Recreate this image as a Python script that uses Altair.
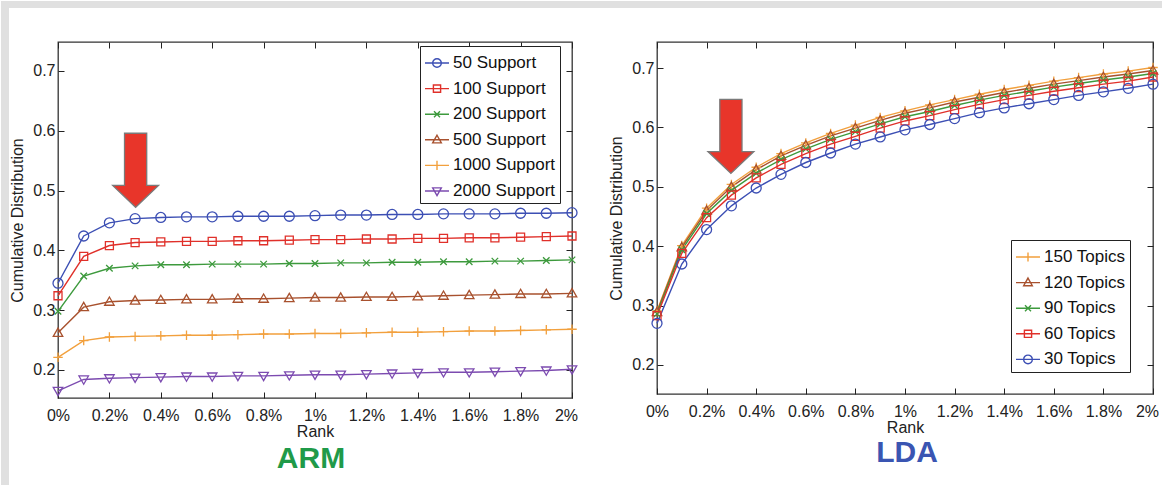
import altair as alt
import pandas as pd

# ---------------- data ----------------
RANK = [0.0, 0.1, 0.2, 0.3, 0.4, 0.5, 0.6, 0.7, 0.8, 0.9, 1.0,
        1.1, 1.2, 1.3, 1.4, 1.5, 1.6, 1.7, 1.8, 1.9, 2.0]
X_TICKS = [0.0, 0.2, 0.4, 0.6, 0.8, 1.0, 1.2, 1.4, 1.6, 1.8, 2.0]
Y_TICKS = [0.2, 0.3, 0.4, 0.5, 0.6, 0.7]

ARM_NAMES = ["50 Support", "100 Support", "200 Support", "500 Support",
             "1000 Support", "2000 Support"]
ARM_50 = [0.345, 0.424, 0.446, 0.453, 0.455, 0.456, 0.456, 0.457, 0.457, 0.457, 0.458,
          0.459, 0.459, 0.460, 0.460, 0.461, 0.461, 0.461, 0.462, 0.462, 0.463]
ARM_100 = [0.324, 0.390, 0.408, 0.413, 0.414, 0.415, 0.415, 0.416, 0.416, 0.417, 0.418,
           0.418, 0.419, 0.419, 0.420, 0.420, 0.421, 0.421, 0.422, 0.423, 0.424]
ARM_200 = [0.298, 0.357, 0.370, 0.374, 0.376, 0.376, 0.377, 0.377, 0.377, 0.378, 0.378,
           0.379, 0.379, 0.380, 0.380, 0.381, 0.381, 0.382, 0.382, 0.383, 0.384]
ARM_500 = [0.262, 0.305, 0.314, 0.316, 0.317, 0.318, 0.318, 0.319, 0.319, 0.320, 0.321,
           0.321, 0.322, 0.322, 0.323, 0.324, 0.325, 0.326, 0.327, 0.327, 0.328]
ARM_1000 = [0.221, 0.249, 0.255, 0.256, 0.257, 0.258, 0.258, 0.259, 0.260, 0.260, 0.261,
            0.261, 0.262, 0.263, 0.263, 0.264, 0.265, 0.265, 0.266, 0.267, 0.268]
ARM_2000 = [0.165, 0.184, 0.186, 0.187, 0.188, 0.189, 0.189, 0.190, 0.190, 0.191, 0.192,
            0.192, 0.193, 0.194, 0.195, 0.196, 0.196, 0.197, 0.198, 0.199, 0.201]
ARM_VALUES = [ARM_50, ARM_100, ARM_200, ARM_500, ARM_1000, ARM_2000]
ARM_COLORS = ["#3c4fb4", "#e0302a", "#3d9a3d", "#a8512e", "#f2a03d", "#7c4bb0"]

LDA_NAMES = ["150 Topics", "120 Topics", "90 Topics", "60 Topics", "30 Topics"]
LDA_150 = [0.291, 0.401, 0.464, 0.504, 0.533, 0.556, 0.574, 0.590, 0.604, 0.617, 0.628,
           0.638, 0.647, 0.656, 0.664, 0.671, 0.678, 0.684, 0.690, 0.695, 0.701]
LDA_120 = [0.289, 0.398, 0.460, 0.500, 0.529, 0.552, 0.570, 0.586, 0.599, 0.612, 0.624,
           0.633, 0.643, 0.651, 0.659, 0.666, 0.673, 0.679, 0.685, 0.690, 0.696]
LDA_90 = [0.286, 0.394, 0.455, 0.494, 0.523, 0.546, 0.564, 0.580, 0.593, 0.606, 0.618,
          0.627, 0.637, 0.646, 0.654, 0.661, 0.668, 0.674, 0.680, 0.685, 0.691]
LDA_60 = [0.283, 0.388, 0.448, 0.486, 0.515, 0.538, 0.556, 0.572, 0.585, 0.599, 0.611,
          0.620, 0.630, 0.639, 0.647, 0.654, 0.661, 0.667, 0.673, 0.678, 0.685]
LDA_30 = [0.270, 0.370, 0.428, 0.468, 0.498, 0.521, 0.541, 0.557, 0.572, 0.584, 0.596,
          0.605, 0.615, 0.625, 0.633, 0.640, 0.647, 0.654, 0.660, 0.666, 0.673]
LDA_VALUES = [LDA_150, LDA_120, LDA_90, LDA_60, LDA_30]
LDA_COLORS = ["#f2a03d", "#a8512e", "#3d9a3d", "#e0302a", "#3c4fb4"]

ARROW_ARM_RANK = [0.302]
ARROW_ARM_VALUE = [0.534]
ARROW_LDA_RANK = [0.298]
ARROW_LDA_VALUE = [0.585]

# ---------------- marker shapes ----------------
CIRCLE = "M1,0A1,1 0 1,1 -1,0A1,1 0 1,1 1,0Z"
SQUARE = "M-0.8,-0.8L0.8,-0.8L0.8,0.8L-0.8,0.8Z"
XMARK = "M-0.65,-0.65L0.65,0.65M-0.65,0.65L0.65,-0.65"
TRI_UP = "M0,-0.95L0.95,0.7L-0.95,0.7Z"
PLUS = "M-0.95,0L0.95,0M0,-0.95L0,0.95"
TRI_DOWN = "M0,0.95L0.95,-0.7L-0.95,-0.7Z"

L_CIRCLE = "M-1,0L1,0M0.36,0A0.36,0.36 0 1,1 -0.36,0A0.36,0.36 0 1,1 0.36,0Z"
L_SQUARE = "M-1,0L1,0M-0.3,-0.3L0.3,-0.3L0.3,0.3L-0.3,0.3Z"
L_XMARK = "M-1,0L1,0M-0.25,-0.25L0.25,0.25M-0.25,0.25L0.25,-0.25"
L_TRI_UP = "M-1,0L1,0M0,-0.38L0.36,0.26L-0.36,0.26Z"
L_PLUS = "M-1,0L1,0M0,-0.38L0,0.38"
L_TRI_DOWN = "M-1,0L1,0M0,0.38L0.36,-0.26L-0.36,-0.26Z"

ARROW = "M-0.3,-1L0.3,-1L0.3,0.41L0.62,0.41L0,1L-0.62,0.41L-0.3,0.41Z"

FONT = "Liberation Sans"
STRIP = "#e0e0e0"


def long_df(names, values):
    rows = []
    for name, vals in zip(names, values):
        for r, v in zip(RANK, vals):
            rows.append({"rank": r, "value": v, "series": name})
    return pd.DataFrame(rows)


def axis(orient, title=None, labels=True):
    is_x = orient in ("bottom", "top")
    kw = dict(
        orient=orient, offset=-6, tickSize=6, tickColor="#222", tickWidth=1,
        domain=False, grid=False, labels=labels, labelFlush=False,
        values=X_TICKS if is_x else Y_TICKS,
        labelFont=FONT, labelFontSize=16, labelColor="#222",
        titleFont=FONT, titleFontSize=16, titleFontWeight="normal", titleColor="#222",
    )
    kw["title"] = title
    if is_x:
        kw["labelExpr"] = "format(datum.value, '.1~f') + '%'"
        kw["labelPadding"] = 9
        kw["titlePadding"] = 0
        kw["labelOffset"] = {"condition": {"test": "datum.value > 1.99", "value": -6}, "value": 0}
    else:
        kw["format"] = ".1f"
        kw["labelPadding"] = 3
        kw["titlePadding"] = 7
    return alt.Axis(**kw)


def panel(names, values, colors, shapes, leg_shapes, ydom, W, H, arrow_r, arrow_v,
          leg_xy, strips, title, title_color, title_xy):
    df = long_df(names, values)
    xs = alt.Scale(domain=[0, 2], nice=False, zero=False)
    ys = alt.Scale(domain=ydom, nice=False, zero=False)
    cs = alt.Scale(domain=names, range=colors)

    layers = []
    for (x1, x2, y1, y2) in strips:
        layers.append(
            alt.Chart(alt.InlineData(values=[{"k": 1}]))
            .mark_rect(color=STRIP)
            .encode(x=alt.value(x1), x2=alt.value(x2), y=alt.value(y1), y2=alt.value(y2))
        )

    line = alt.Chart(df).mark_line(strokeWidth=1.4).encode(
        x=alt.X("rank:Q", scale=xs, axis=axis("bottom", "Rank")),
        y=alt.Y("value:Q", scale=ys, axis=axis("left", "Cumulative Distribution")),
        color=alt.Color("series:N", scale=cs, legend=None),
    )
    pts = alt.Chart(df).mark_point(filled=False, strokeWidth=1.3, size=100, opacity=1).encode(
        x=alt.X("rank:Q", scale=xs, axis=axis("top", labels=False)),
        y=alt.Y("value:Q", scale=ys, axis=axis("right", labels=False)),
        color=alt.Color("series:N", scale=cs, legend=None),
        shape=alt.Shape("series:N", scale=alt.Scale(domain=names, range=shapes), legend=None),
    )
    leg = alt.Legend(
        title=None, orient="none", legendX=leg_xy[0], legendY=leg_xy[1],
        symbolSize=576, symbolStrokeWidth=1.4, symbolOpacity=1,
        labelFont=FONT, labelFontSize=17, labelColor="#111", labelOffset=3,
        labelLimit=300, rowPadding=4.6, padding=4,
        strokeColor="#222", fillColor="white",
    )
    legend_layer = alt.Chart(df).transform_filter("false").mark_point(
        filled=False, strokeWidth=1.4, opacity=1
    ).encode(
        x=alt.X("rank:Q", scale=xs, axis=None),
        y=alt.Y("value:Q", scale=ys, axis=None),
        color=alt.Color("series:N", scale=cs, legend=leg),
        shape=alt.Shape("series:N", scale=alt.Scale(domain=names, range=leg_shapes), legend=leg),
    )
    arrow_df = pd.DataFrame({"rank": arrow_r, "value": arrow_v})
    arrow = alt.Chart(arrow_df).mark_point(
        shape=ARROW, size=5476, filled=True, fill="#e8352a", stroke="#7a7a7a",
        strokeWidth=1.3, opacity=1
    ).encode(
        x=alt.X("rank:Q", scale=xs, axis=None),
        y=alt.Y("value:Q", scale=ys, axis=None),
    )
    ttl = alt.Chart(alt.InlineData(values=[{"t": title}])).mark_text(
        font=FONT, fontSize=30, fontWeight="bold", color=title_color,
        align="center", baseline="alphabetic"
    ).encode(text="t:N", x=alt.value(title_xy[0]), y=alt.value(title_xy[1]))

    layers += [line, pts, legend_layer, arrow, ttl]
    return (
        alt.layer(*layers)
        .resolve_scale(color="independent", shape="independent")
        .resolve_axis(x="independent", y="independent")
        .properties(width=W, height=H)
    )


left = panel(
    ARM_NAMES, ARM_VALUES, ARM_COLORS,
    [CIRCLE, SQUARE, XMARK, TRI_UP, PLUS, TRI_DOWN],
    [L_CIRCLE, L_SQUARE, L_XMARK, L_TRI_UP, L_PLUS, L_TRI_DOWN],
    [0.153, 0.7485], 514, 356, ARROW_ARM_RANK, ARROW_ARM_VALUE,
    (362, 4),
    [(-57, -49, -41, 444), (-57, 531, -41, -34)],
    "ARM", "#1f9a49", (253, 426),
)
right = panel(
    LDA_NAMES, LDA_VALUES, LDA_COLORS,
    [PLUS, TRI_UP, XMARK, SQUARE, CIRCLE],
    [L_PLUS, L_TRI_UP, L_XMARK, L_SQUARE, L_CIRCLE],
    [0.151, 0.744], 496, 352, ARROW_LDA_RANK, ARROW_LDA_VALUE,
    (354, 198),
    [(-70, 505, -41, -34)],
    "LDA", "#3a55b2", (250, 420),
)

chart = (
    alt.hconcat(left, right, spacing=-4)
    .properties(padding=0, background="white")
    .configure_view(stroke="#333", strokeWidth=1.3)
)

chart.save("out.html", embed_options={"renderer": "svg", "actions": False})
